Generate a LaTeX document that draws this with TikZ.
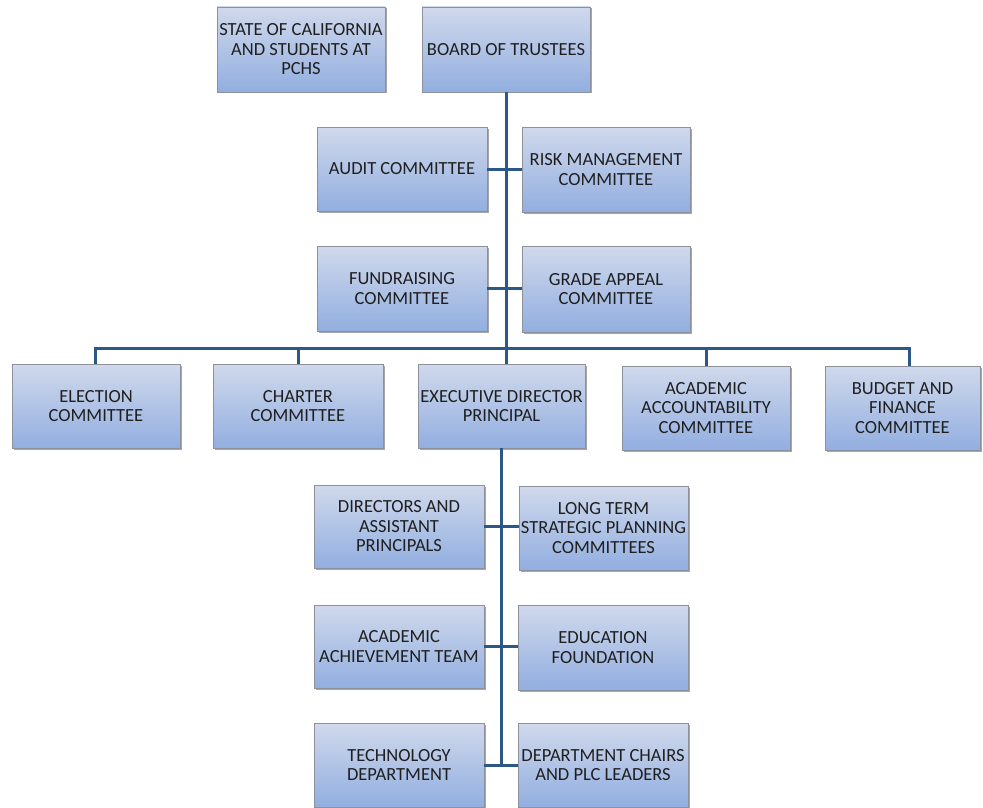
\documentclass[tikz,border=0pt]{standalone}
\usepackage{fontspec}
\setmainfont{Carlito}
\usetikzlibrary{shadows}
\definecolor{linec}{RGB}{44,88,135}
\definecolor{boxtop}{RGB}{208,217,236}
\definecolor{boxbot}{RGB}{146,174,224}
\definecolor{boxline}{RGB}{140,145,155}
\begin{document}
\begin{tikzpicture}[x=1pt,y=-1pt,
  box/.style={draw=boxline, line width=0.6pt, top color=boxtop, bottom color=boxbot,
    align=center, inner sep=0pt, font=\fontsize{18.5}{19.5}\selectfont, text=black!88,
    drop shadow={shadow xshift=1.5pt, shadow yshift=-1.5pt, opacity=0.35, fill=black}},
  conn/.style={draw=linec, line width=3pt}]
\useasboundingbox (0,0) rectangle (983,808);
\fill[white] (0,0) rectangle (983,808);
% nodes
\node[box, minimum width=168pt, minimum height=85pt] (state) at (301,49.5) {STATE OF CALIFORNIA\\AND STUDENTS AT\\PCHS};
\node[box, minimum width=168pt, minimum height=85pt] (board) at (506,49.5) {BOARD OF TRUSTEES};
\node[box, minimum width=170pt, minimum height=84pt] (audit) at (402,169) {AUDIT COMMITTEE};
\node[box, minimum width=168pt, minimum height=85pt] (risk) at (606,169.5) {RISK MANAGEMENT\\COMMITTEE};
\node[box, minimum width=170pt, minimum height=85pt] (fund) at (402,288.5) {FUNDRAISING\\COMMITTEE};
\node[box, minimum width=168pt, minimum height=86pt] (grade) at (606,289) {GRADE APPEAL\\COMMITTEE};
\node[box, minimum width=168pt, minimum height=84pt] (elect) at (96,406) {ELECTION\\COMMITTEE};
\node[box, minimum width=170pt, minimum height=84pt] (charter) at (298,406) {CHARTER\\COMMITTEE};
\node[box, minimum width=167pt, minimum height=84pt] (exec) at (501.5,406) {EXECUTIVE DIRECTOR\\PRINCIPAL};
\node[box, minimum width=168pt, minimum height=84pt] (acc) at (706,408) {ACADEMIC\\ACCOUNTABILITY\\COMMITTEE};
\node[box, minimum width=155pt, minimum height=84pt] (budget) at (902.5,408) {BUDGET AND\\FINANCE\\COMMITTEE};
\node[box, minimum width=170pt, minimum height=83pt] (dir) at (399,526.5) {DIRECTORS AND\\ASSISTANT\\PRINCIPALS};
\node[box, minimum width=169pt, minimum height=84pt] (long) at (603.5,528) {LONG TERM\\STRATEGIC PLANNING\\COMMITTEES};
\node[box, minimum width=170pt, minimum height=83pt] (ach) at (399,646.5) {ACADEMIC\\ACHIEVEMENT TEAM};
\node[box, minimum width=170pt, minimum height=85pt] (edu) at (603,647.5) {EDUCATION\\FOUNDATION};
\node[box, minimum width=170pt, minimum height=84pt] (tech) at (399,765) {TECHNOLOGY\\DEPARTMENT};
\node[box, minimum width=170pt, minimum height=84pt] (dept) at (603,765) {DEPARTMENT CHAIRS\\AND PLC LEADERS};
% coordinates
\coordinate (hl) at (95,348);
\coordinate (hr) at (909,348);
\coordinate (hc) at (506,348);
\coordinate (hch) at (298,348);
\coordinate (hac) at (706,348);
% connectors
\path[conn] (board.south) -- (hc);
\path[conn] (audit.east) -- (risk.west |- audit.east);
\path[conn] (fund.east) -- (grade.west |- fund.east);
\path[conn, line cap=rect] (hl) -- (hr);
\path[conn] (hl) -- (hl |- elect.north);
\path[conn] (hch) -- (hch |- charter.north);
\path[conn] (hc) -- (hc |- exec.north);
\path[conn] (hac) -- (hac |- acc.north);
\path[conn] (hr) -- (hr |- budget.north);
\path[conn] (exec.south) -- (exec.south |- tech.east);
\path[conn] (dir.east) -- (long.west |- dir.east);
\path[conn] (ach.east) -- (edu.west |- ach.east);
\path[conn] (tech.east) -- (dept.west |- tech.east);
\end{tikzpicture}
\end{document}
